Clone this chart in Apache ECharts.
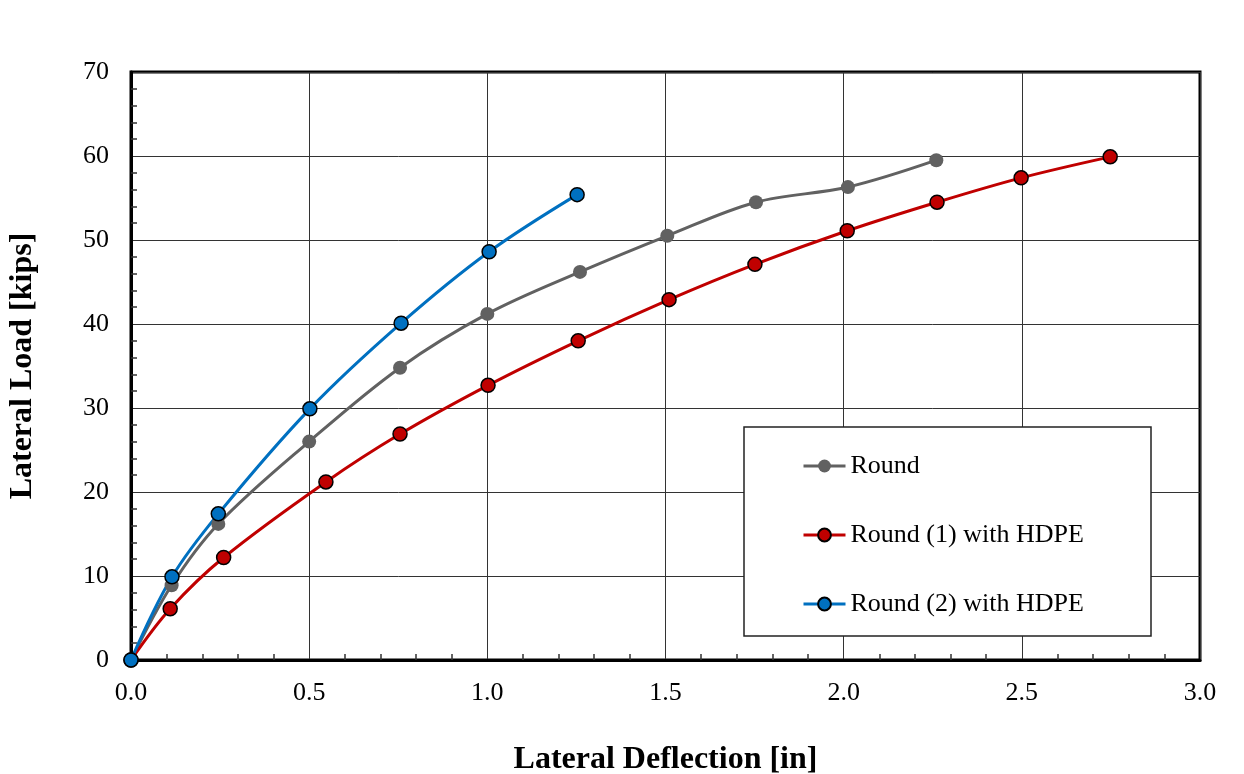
<!DOCTYPE html>
<html><head><meta charset="utf-8">
<script src="https://cdn.jsdelivr.net/npm/echarts@6/dist/echarts.min.js"></script>
<style>html,body{margin:0;padding:0;background:#fff}#c{width:1244px;height:774px}</style>
</head><body><div id="c"></div>
<script>
const roundX = [0, 0.114, 0.245, 0.5, 0.755, 1.0, 1.26, 1.505, 1.754, 2.012, 2.26];
const roundY = [0, 8.9, 16.2, 26.0, 34.8, 41.2, 46.2, 50.5, 54.5, 56.3, 59.5];
const hdpe1X = [0, 0.11, 0.26, 0.547, 0.755, 1.002, 1.255, 1.51, 1.751, 2.01, 2.262, 2.498, 2.748];
const hdpe1Y = [0, 6.1, 12.2, 21.2, 26.9, 32.7, 38.0, 42.9, 47.1, 51.1, 54.5, 57.4, 59.9];
const hdpe2X = [0, 0.115, 0.245, 0.502, 0.758, 1.005, 1.252];
const hdpe2Y = [0, 9.9, 17.4, 29.9, 40.1, 48.6, 55.4];
const seriesNames = ['Round', 'Round (1) with HDPE', 'Round (2) with HDPE'];
const xTitle = 'Lateral Deflection [in]';
const yTitle = 'Lateral Load [kips]';

const zip = (xs, ys) => xs.map((x, i) => [x, ys[i]]);
const font = 'Liberation Serif';
const chart = echarts.init(document.getElementById('c'));
function mk(name, xs, ys, color, border) {
  return {
    name, type: 'line', data: zip(xs, ys), smooth: 0.35,
    symbol: 'circle', symbolSize: 14,
    lineStyle: { color, width: 3 },
    itemStyle: { color, borderColor: border ? '#000' : color, borderWidth: border ? 1.5 : 0 },
    z: 3
  };
}
chart.setOption({
  animation: false,
  backgroundColor: '#fff',
  grid: { left: 131, right: 44, top: 72, bottom: 114, outerBoundsMode: 'none', containLabel: false, show: true, borderColor: '#000', borderWidth: 3, backgroundColor: 'transparent' },
  xAxis: {
    type: 'value', min: 0, max: 3, interval: 0.5,
    name: xTitle, nameLocation: 'middle', nameGap: 84,
    nameTextStyle: { fontFamily: font, fontSize: 32, fontWeight: 'bold', color: '#000' },
    axisLine: { show: true, lineStyle: { color: '#000', width: 3 } },
    axisTick: { show: false, inside: true },
    minorTick: { show: true, splitNumber: 5, length: 6, lineStyle: { color: '#333', width: 1.5 } },
    axisLabel: { fontFamily: font, fontSize: 26, color: '#000', margin: 20, formatter: v => v.toFixed(1) },
    splitLine: { show: true, lineStyle: { color: '#333', width: 1 } }
  },
  yAxis: {
    type: 'value', min: 0, max: 70, interval: 10,
    name: yTitle, nameLocation: 'middle', nameGap: 92,
    nameTextStyle: { fontFamily: font, fontSize: 32, fontWeight: 'bold', color: '#000' },
    axisLine: { show: true, lineStyle: { color: '#000', width: 3 } },
    axisTick: { show: false, inside: true },
    minorTick: { show: true, splitNumber: 5, length: 6, lineStyle: { color: '#333', width: 1.5 } },
    axisLabel: { fontFamily: font, fontSize: 26, color: '#000', margin: 22 },
    splitLine: { show: true, lineStyle: { color: '#333', width: 1 } }
  },
  graphic: [{
    type: 'rect', z: 50, shape: { x: 744, y: 427, width: 407, height: 209 },
    style: { fill: '#fff', stroke: '#222', lineWidth: 1.5 }
  }],
  legend: {
    z: 100, orient: 'vertical', left: 797, top: 448, itemGap: 43,
    itemWidth: 42, itemHeight: 16,
    lineStyle: { width: 3 },
    textStyle: { fontFamily: font, fontSize: 26, color: '#000', padding: [0, 0, 0, 0] },
    data: seriesNames
  },
  series: [
    mk(seriesNames[0], roundX, roundY, '#616161', false),
    mk(seriesNames[1], hdpe1X, hdpe1Y, '#C00000', true),
    mk(seriesNames[2], hdpe2X, hdpe2Y, '#0070C0', true)
  ]
});
</script></body></html>
